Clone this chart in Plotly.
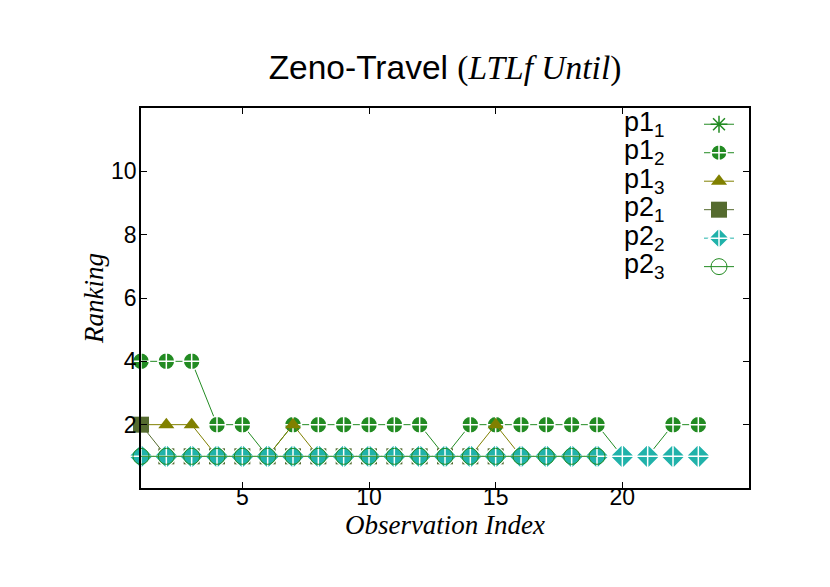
import plotly.graph_objects as go

x_idx = list(range(1, 24))

p1_1 = [1] * 19
p1_2 = [4, 4, 4, 2, 2, 1, 2, 2, 2, 2, 2, 2, 1, 2, 2, 2, 2, 2, 2, 1, 1, 2, 2]
p1_3 = [2, 2, 2, 1, 1, 1, 2, 1, 1, 1, 1, 1, 1, 1, 2, 1, 1, 1, 1, 1]
p2_1 = [2] + [1] * 14
p2_2 = [1] * 23
p2_3 = [1] * 19

labels = ["p1<sub>1</sub>", "p1<sub>2</sub>", "p1<sub>3</sub>",
          "p2<sub>1</sub>", "p2<sub>2</sub>", "p2<sub>3</sub>"]
x_ticks = [5, 10, 15, 20]
y_ticks = [2, 4, 6, 8, 10]

series = [p1_1, p1_2, p1_3, p2_1, p2_2, p2_3]
colors = ["#228B22", "#228B22", "#808000", "#556B2F", "#20B2AA", "#228B22"]
styles = [
    dict(symbol="asterisk-open", size=14, line=dict(color=colors[0], width=1.5)),
    dict(symbol="circle-cross", size=17, color=colors[1], line=dict(color="white", width=1.5)),
    dict(symbol="triangle-up", size=14, color=colors[2], line=dict(width=0)),
    dict(symbol="square", size=16, color=colors[3], line=dict(width=0)),
    dict(symbol="diamond-cross", size=19, color=colors[4], line=dict(color="white", width=1.5)),
    dict(symbol="circle-open", size=16, color=colors[5], line=dict(color=colors[5], width=1)),
]

fig = go.Figure()
for vals, col, st, lab in zip(series, colors, styles, labels):
    fig.add_trace(go.Scatter(
        x=x_idx[:len(vals)], y=vals, mode="lines+markers", name=lab,
        line=dict(color=col, width=1), marker=st, cliponaxis=False,
    ))

# page body adds an 8px offset; work in reference pixel coordinates
OFF = 8
W, H = 830 - OFF, 587 - OFF
PL, PR, PT, PB = 141, 749, 108, 488  # plot box in reference pixels
L, T = PL - OFF, PT - OFF
R, B = W - (PR - OFF), H - (PB - OFF)
pw, ph = W - L - R, H - T - B

def px_x(px):
    return (px - OFF - L) / pw

def px_y(py):
    return (H - B - (py - OFF)) / ph

item_h = 19.6 * 1.3 + 3
first_c = 124
for i, lab in enumerate(labels):
    fig.add_annotation(
        x=px_x(667), y=px_y(first_c + i * item_h), xref="paper", yref="paper",
        text=lab, showarrow=False, xanchor="right", yanchor="middle",
        font=dict(family="Liberation Sans, Arial, sans-serif", size=27, color="black"),
    )

fig.update_layout(
    width=W, height=H,
    margin=dict(l=L, r=R, t=T, b=B, autoexpand=False),
    paper_bgcolor="white", plot_bgcolor="white",
    title=dict(
        text='Zeno-Travel <span style="font-family:\'Liberation Serif\', \'Times New Roman\', serif">(<i>LTLf Until</i>)</span>',
        x=(445 - OFF) / W, xanchor="center", y=1 - (67 - OFF) / H, yanchor="middle",
        font=dict(family="Liberation Sans, Arial, sans-serif", size=33.5, color="black"),
    ),
    showlegend=True,
    legend=dict(
        x=px_x(699), xanchor="left", y=px_y(105), yanchor="top",
        bgcolor="rgba(0,0,0,0)", borderwidth=0,
        font=dict(family="Liberation Sans, Arial, sans-serif", size=19.6, color="rgba(0,0,0,0)"),
        itemsizing="trace", tracegroupgap=0,
    ),
    xaxis=dict(
        range=[1, 25], tickvals=x_ticks, ticks="inside", ticklen=6, tickcolor="black",
        showline=True, linecolor="black", linewidth=1.5, mirror="ticks",
        showgrid=False, zeroline=False, ticklabelstandoff=-12,
        tickfont=dict(family="Liberation Sans, Arial, sans-serif", size=23, color="black"),
        title=dict(text="<i>Observation Index</i>", standoff=0,
                   font=dict(family="Liberation Serif, Times New Roman, serif", size=27, color="black")),
    ),
    yaxis=dict(
        range=[0, 12], tickvals=y_ticks, ticks="inside", ticklen=6, tickcolor="black",
        showline=True, linecolor="black", linewidth=1.5, mirror="ticks",
        showgrid=False, zeroline=False, ticklabelstandoff=-2,
        tickfont=dict(family="Liberation Sans, Arial, sans-serif", size=23, color="black"),
        title=dict(text="<i>Ranking</i>", standoff=0,
                   font=dict(family="Liberation Serif, Times New Roman, serif", size=27, color="black")),
    ),
)

fig.write_html("out.html")
